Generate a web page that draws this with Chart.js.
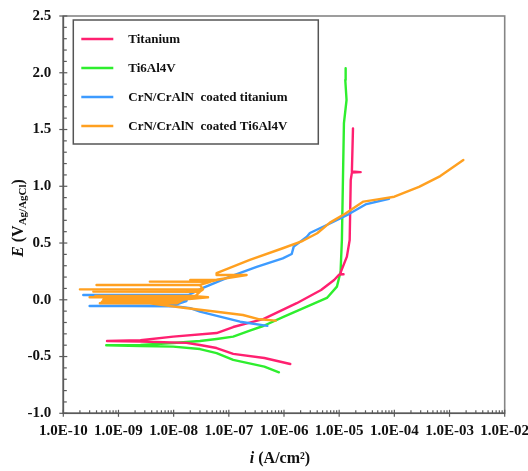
<!DOCTYPE html>
<html>
<head>
<meta charset="utf-8">
<script src="https://cdn.jsdelivr.net/npm/chart.js@4.4.1/dist/chart.umd.min.js"></script>
<style>
html,body{margin:0;padding:0;background:#fff;}
canvas{display:block;}
</style>
</head>
<body>
<canvas id="c" width="528" height="471"></canvas>
<script>
// ---- data (current density in A/cm², potential in V vs Ag/AgCl) ----
const seriesNames = ["Titanium", "Ti6Al4V", "CrN/CrAlN  coated titanium", "CrN/CrAlN  coated Ti6Al4V"];
const seriesColors = ["#ff2070", "#2eee2e", "#3d9bff", "#ffa020"];

const tiCurrent = [1.3e-6, 4.4e-7, 1.2e-7, 6.0e-8, 3.0e-8, 1.7e-8, 2.5e-9, 6.2e-10, 2.5e-9, 9.8e-9, 6.0e-8, 1.2e-7, 2.8e-7, 4.2e-7, 1.7e-6, 4.7e-6, 8.1e-6, 1.0e-5, 1.2e-5, 1.05e-5, 1.07e-5, 1.38e-5, 1.55e-5, 1.62e-5, 1.7e-5, 2.45e-5, 1.7e-5, 1.78e-5];
const tiPotential = [-0.566, -0.513, -0.477, -0.425, -0.398, -0.38, -0.368, -0.363, -0.357, -0.325, -0.293, -0.24, -0.193, -0.17, -0.03, 0.086, 0.174, 0.222, 0.225, 0.228, 0.245, 0.38, 0.527, 1.055, 1.12, 1.125, 1.13, 1.51];

const alloyCurrent = [8.1e-7, 4.4e-7, 1.2e-7, 6.0e-8, 3.0e-8, 9.8e-9, 2.5e-9, 6.0e-10, 2.5e-9, 9.8e-9, 3.0e-8, 6.0e-8, 1.2e-7, 2.4e-7, 4.2e-7, 1.0e-6, 2.6e-6, 6.0e-6, 9.1e-6, 1.06e-5, 1.12e-5, 1.17e-5, 1.22e-5, 1.36e-5, 1.29e-5, 1.31e-5];
const alloyPotential = [-0.639, -0.589, -0.53, -0.47, -0.434, -0.413, -0.407, -0.401, -0.398, -0.381, -0.363, -0.345, -0.325, -0.272, -0.231, -0.149, -0.061, 0.016, 0.116, 0.247, 0.527, 1.055, 1.557, 1.76, 1.936, 2.04];

const coatTiCurrent = [5.0e-7, 1.6e-7, 6.9e-8, 3.0e-8, 2.0e-8, 1.15e-8, 1.4e-9, 3.0e-10, 6.0e-9, 1.2e-8, 1.7e-8, 5.6e-9, 1.7e-8, 1.8e-8, 1.9e-8, 2.3e-10, 1.9e-8, 2.4e-8, 3.4e-8, 1.05e-7, 3.2e-7, 9.5e-7, 1.38e-6, 1.5e-6, 2.6e-6, 2.95e-6, 6.8e-6, 1.5e-5, 3.0e-5, 8.0e-5];
const coatTiPotential = [-0.23, -0.193, -0.149, -0.105, -0.073, -0.058, -0.055, -0.055, -0.05, -0.035, -0.012, -0.01, -0.008, 0.02, 0.04, 0.042, 0.044, 0.07, 0.104, 0.204, 0.289, 0.365, 0.403, 0.468, 0.556, 0.588, 0.672, 0.755, 0.84, 0.89];

const coatAlloyCurrent = [7.1e-7, 3.6e-7, 1.8e-7, 6.0e-8, 1.5e-8, 3.7e-9, 1.15e-8, 4.6e-10, 1.15e-8, 1.3e-8, 5.0e-10, 1.3e-8, 1.5e-8, 5.3e-10, 1.5e-8, 4.2e-8, 3.0e-10, 4.2e-8, 2.5e-8, 3.8e-10, 2.5e-8, 3.0e-8, 3.5e-10, 3.0e-8, 3.4e-8, 2.0e-10, 3.4e-8, 3.0e-8, 4.0e-10, 3.0e-8, 4.6e-8, 3.7e-9, 4.6e-8, 6.0e-8, 2.0e-8, 6.0e-8, 2.1e-7, 6.0e-8, 6.0e-8, 2.4e-7, 9.5e-7, 2.2e-6, 4.0e-6, 6.8e-6, 1.3e-5, 2.75e-5, 5.0e-5, 1.0e-4, 2.8e-4, 6.8e-4, 1.78e-3];
const coatAlloyPotential = [-0.184, -0.172, -0.134, -0.105, -0.07, -0.032, -0.031, -0.031, -0.03, -0.017, -0.016, -0.015, 0.0, 0.0, 0.001, 0.021, 0.022, 0.023, 0.032, 0.033, 0.034, 0.071, 0.072, 0.073, 0.091, 0.092, 0.093, 0.129, 0.13, 0.131, 0.159, 0.16, 0.161, 0.174, 0.175, 0.176, 0.218, 0.219, 0.235, 0.351, 0.454, 0.52, 0.586, 0.68, 0.76, 0.865, 0.885, 0.908, 0.995, 1.09, 1.232];

const xTickValues = [1e-10, 1e-9, 1e-8, 1e-7, 1e-6, 1e-5, 1e-4, 1e-3, 1e-2];
const yTickValues = [-1.0, -0.5, 0.0, 0.5, 1.0, 1.5, 2.0, 2.5];

// ---- build ----
function pts(xs, ys){ return xs.map((x,i)=>({x:x, y:ys[i]})); }
const allX = [tiCurrent, alloyCurrent, coatTiCurrent, coatAlloyCurrent];
const allY = [tiPotential, alloyPotential, coatTiPotential, coatAlloyPotential];
const drawOrder = [2, 3, 1, 0];

const FONT = "'Liberation Serif', 'Times New Roman', serif";

const datasets = seriesNames.map((n,i)=>({
  label: n,
  data: pts(allX[i], allY[i]),
  borderColor: seriesColors[i],
  backgroundColor: seriesColors[i],
  borderWidth: 2.4,
  pointRadius: 0,
  showLine: true,
  tension: 0,
  fill: false,
  order: drawOrder[i],
  borderJoinStyle: 'round',
  borderCapStyle: 'round'
}));

function fmtExp(v){
  const e = Math.round(Math.log10(v));
  const a = Math.abs(e);
  return "1.0E" + (e<0?"-":"+") + (a<10?"0"+a:""+a);
}

const bgPlugin = {
  id:'bg',
  beforeDraw(chart){
    const c = chart.ctx; c.save(); c.fillStyle='#fff'; c.fillRect(0,0,chart.width,chart.height); c.restore();
  }
};

const framePlugin = {
  id:'frame',
  afterDraw(chart){
    const c = chart.ctx, a = chart.chartArea;
    const xs = chart.scales.x, ys = chart.scales.y;
    c.save();
    c.strokeStyle = '#858585'; c.lineWidth = 1.6;
    c.strokeRect(a.left, a.top, a.right-a.left, a.bottom-a.top);
    c.strokeStyle = '#5a5a5a'; c.lineWidth = 1.6;
    c.beginPath();
    c.moveTo(a.left, a.top); c.lineTo(a.left, a.bottom); c.lineTo(a.right, a.bottom);
    c.stroke();
    c.lineWidth = 1.2;
    for (let k = -10; k <= 25; k++){
      const v = k/10, p = ys.getPixelForValue(v);
      c.beginPath();
      if (k % 5 === 0){ c.moveTo(a.left-4, p); c.lineTo(a.left+4, p); }
      else { c.moveTo(a.left, p); c.lineTo(a.left+3.5, p); }
      c.stroke();
    }
    for (let e = -10; e <= -2; e++){
      for (let m = 1; m <= 9; m++){
        if (e === -2 && m > 1) break;
        const v = m*Math.pow(10,e), p = xs.getPixelForValue(v);
        c.beginPath();
        if (m === 1){ c.moveTo(p, a.bottom-3.5); c.lineTo(p, a.bottom+3.5); }
        else { c.moveTo(p, a.bottom); c.lineTo(p, a.bottom-3); }
        c.stroke();
      }
    }
    c.restore();
  }
};

function drawParts(c, parts, cx, cy){
  let w = 0;
  parts.forEach(p=>{ c.font = p.font; p.w = c.measureText(p.t).width; w += p.w; });
  let x = cx - w/2;
  parts.forEach(p=>{ c.font = p.font; c.fillText(p.t, x, cy + (p.dy||0)); x += p.w; });
}

const titlePlugin = {
  id:'titles',
  afterDraw(chart){
    const c = chart.ctx, a = chart.chartArea;
    c.save();
    c.fillStyle = '#111';
    c.textBaseline = 'middle';
    c.textAlign = 'left';
    drawParts(c, [
      {t:'i', font:"italic bold 16px "+FONT},
      {t:' (A/cm²)', font:"bold 16px "+FONT}
    ], (a.left+a.right)/2 - 4, 459);
    c.translate(19, 218);
    c.rotate(-Math.PI/2);
    drawParts(c, [
      {t:'E', font:"italic bold 16px "+FONT},
      {t:' (V', font:"bold 16px "+FONT},
      {t:'Ag/AgCl', font:"bold 11px "+FONT, dy:4},
      {t:')', font:"bold 16px "+FONT}
    ], 0, 0);
    c.restore();
  }
};

const legendPlugin = {
  id:'boxLegend',
  afterDraw(chart){
    const c = chart.ctx, a = chart.chartArea;
    const bx = a.left + 10, by = a.top + 4, bw = 245, bh = 124;
    c.save();
    c.fillStyle = '#fff';
    c.fillRect(bx, by, bw, bh);
    c.strokeStyle = '#555'; c.lineWidth = 1.5;
    c.strokeRect(bx, by, bw, bh);
    c.font = "bold 13px "+FONT;
    c.textBaseline = 'middle';
    c.textAlign = 'left';
    chart.data.datasets.forEach((d,i)=>{
      const y = by + 19 + i*29;
      c.strokeStyle = d.borderColor; c.lineWidth = 2.6;
      c.beginPath(); c.moveTo(bx+8, y); c.lineTo(bx+40, y); c.stroke();
      c.fillStyle = '#111';
      c.fillText(d.label, bx+55, y+1);
    });
    c.restore();
  }
};

new Chart(document.getElementById('c'), {
  type: 'scatter',
  data: { datasets },
  options: {
    responsive: false,
    devicePixelRatio: 1,
    animation: false,
    events: [],
    layout: { padding: { top: 16, right: 23.3, left: 0, bottom: 0 } },
    plugins: { legend: { display: false }, tooltip: { enabled: false } },
    scales: {
      x: {
        type: 'logarithmic',
        min: 1e-10, max: 1e-2,
        afterFit(s){ s.height = 57.7; s.paddingLeft = 0; s.paddingRight = 0; },
        afterBuildTicks(s){ s.ticks = xTickValues.map(v=>({value:v, major:true})); },
        grid: { display: false, drawTicks: false },
        border: { display: false },
        ticks: {
          autoSkip: false, maxRotation: 0, minRotation: 0, padding: 9,
          color: '#111',
          font: { family: FONT, size: 15, weight: 'bold' },
          callback: (v)=>fmtExp(v)
        }
      },
      y: {
        type: 'linear',
        min: -1.0, max: 2.5,
        afterFit(s){ s.width = 63.3; s.paddingTop = 0; s.paddingBottom = 0; },
        afterBuildTicks(s){ s.ticks = yTickValues.map(v=>({value:v})); },
        grid: { display: false, drawTicks: false },
        border: { display: false },
        ticks: {
          autoSkip: false, padding: 12,
          color: '#111',
          font: { family: FONT, size: 15, weight: 'bold' },
          callback: (v)=>Number(v).toFixed(1)
        }
      }
    }
  },
  plugins: [bgPlugin, framePlugin, titlePlugin, legendPlugin]
});
</script>
</body>
</html>
